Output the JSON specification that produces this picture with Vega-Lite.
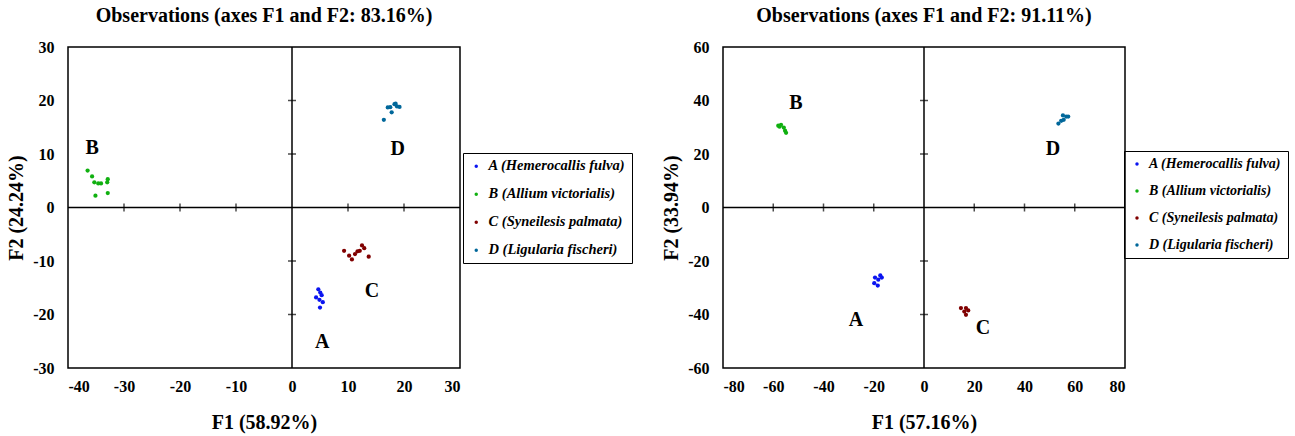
{
  "$schema": "https://vega.github.io/schema/vega-lite/v6.json",
  "background": "white",
  "padding": {"left": 5, "top": 5, "right": 2, "bottom": 2},
  "config": {
    "font": "Liberation Serif",
    "view": {"stroke": "black", "strokeWidth": 1.5},
    "axis": {"grid": false, "ticks": false, "domain": false, "labelFont": "Liberation Serif", "labelFontWeight": "bold", "labelFontSize": 16, "labelColor": "black", "titleFont": "Liberation Serif", "titleFontWeight": "bold", "titleFontSize": 20, "titleColor": "black", "labelExpr": "toString(datum.value)"},
    "title": {"font": "Liberation Serif", "fontWeight": "bold", "fontSize": 20, "color": "black", "offset": 13},
    "legend": {"labelFont": "Liberation Serif", "labelFontWeight": "bold", "labelFontStyle": "italic", "labelFontSize": 14.5, "labelColor": "black", "strokeColor": "black", "strokeWidth": 1, "padding": 6, "symbolSize": 12, "symbolType": "circle", "rowPadding": 13, "labelOffset": 5}
  },
  "datasets": {
    "left": [
      {"species": "B (Allium victorialis)", "x": -36.5, "y": 6.9},
      {"species": "B (Allium victorialis)", "x": -35.7, "y": 5.8},
      {"species": "B (Allium victorialis)", "x": -35.3, "y": 4.7},
      {"species": "B (Allium victorialis)", "x": -34.6, "y": 4.5},
      {"species": "B (Allium victorialis)", "x": -34.1, "y": 4.5},
      {"species": "B (Allium victorialis)", "x": -32.9, "y": 5.3},
      {"species": "B (Allium victorialis)", "x": -33.0, "y": 4.7},
      {"species": "B (Allium victorialis)", "x": -32.9, "y": 2.7},
      {"species": "B (Allium victorialis)", "x": -35.1, "y": 2.2},
      {"species": "D (Ligularia fischeri)", "x": 16.4, "y": 16.4},
      {"species": "D (Ligularia fischeri)", "x": 17.1, "y": 18.7},
      {"species": "D (Ligularia fischeri)", "x": 17.8, "y": 17.8},
      {"species": "D (Ligularia fischeri)", "x": 18.3, "y": 19.3},
      {"species": "D (Ligularia fischeri)", "x": 18.75, "y": 18.9},
      {"species": "D (Ligularia fischeri)", "x": 19.2, "y": 18.8},
      {"species": "D (Ligularia fischeri)", "x": 17.55, "y": 18.75},
      {"species": "D (Ligularia fischeri)", "x": 18.5, "y": 19.4},
      {"species": "C (Syneilesis palmata)", "x": 9.3, "y": -8.1},
      {"species": "C (Syneilesis palmata)", "x": 10.2, "y": -9.0},
      {"species": "C (Syneilesis palmata)", "x": 10.7, "y": -9.7},
      {"species": "C (Syneilesis palmata)", "x": 11.25, "y": -8.7},
      {"species": "C (Syneilesis palmata)", "x": 11.7, "y": -8.2},
      {"species": "C (Syneilesis palmata)", "x": 12.1, "y": -8.1},
      {"species": "C (Syneilesis palmata)", "x": 12.5, "y": -7.1},
      {"species": "C (Syneilesis palmata)", "x": 12.9, "y": -7.6},
      {"species": "C (Syneilesis palmata)", "x": 13.7, "y": -9.2},
      {"species": "A (Hemerocallis fulva)", "x": 4.7, "y": -15.3},
      {"species": "A (Hemerocallis fulva)", "x": 5.05, "y": -15.9},
      {"species": "A (Hemerocallis fulva)", "x": 4.3, "y": -16.8},
      {"species": "A (Hemerocallis fulva)", "x": 4.9, "y": -17.25},
      {"species": "A (Hemerocallis fulva)", "x": 5.3, "y": -16.4},
      {"species": "A (Hemerocallis fulva)", "x": 5.5, "y": -17.7},
      {"species": "A (Hemerocallis fulva)", "x": 5.0, "y": -18.7}
    ],
    "leftLabels": [
      {"label": "A", "x": 5.4, "y": -25.2},
      {"label": "B", "x": -35.7, "y": 11.2},
      {"label": "C", "x": 14.3, "y": -15.7},
      {"label": "D", "x": 18.9, "y": 11.0}
    ],
    "leftXTicks": [{"v": -30}, {"v": -20}, {"v": -10}, {"v": 10}, {"v": 20}],
    "leftYTicks": [{"v": -20}, {"v": -10}, {"v": 10}, {"v": 20}],
    "right": [
      {"species": "B (Allium victorialis)", "x": -58.0, "y": 30.6},
      {"species": "B (Allium victorialis)", "x": -56.9, "y": 30.9},
      {"species": "B (Allium victorialis)", "x": -55.8, "y": 29.9},
      {"species": "B (Allium victorialis)", "x": -55.3, "y": 28.7},
      {"species": "B (Allium victorialis)", "x": -54.9, "y": 27.9},
      {"species": "B (Allium victorialis)", "x": -57.5, "y": 30.2},
      {"species": "D (Ligularia fischeri)", "x": 53.5, "y": 31.4},
      {"species": "D (Ligularia fischeri)", "x": 54.6, "y": 32.4},
      {"species": "D (Ligularia fischeri)", "x": 55.3, "y": 34.4},
      {"species": "D (Ligularia fischeri)", "x": 56.6, "y": 34.0},
      {"species": "D (Ligularia fischeri)", "x": 57.4, "y": 34.0},
      {"species": "D (Ligularia fischeri)", "x": 55.6, "y": 32.8},
      {"species": "C (Syneilesis palmata)", "x": 14.7, "y": -37.6},
      {"species": "C (Syneilesis palmata)", "x": 16.7, "y": -37.6},
      {"species": "C (Syneilesis palmata)", "x": 16.05, "y": -38.9},
      {"species": "C (Syneilesis palmata)", "x": 17.6, "y": -38.5},
      {"species": "C (Syneilesis palmata)", "x": 16.7, "y": -40.1},
      {"species": "A (Hemerocallis fulva)", "x": -19.5, "y": -26.2},
      {"species": "A (Hemerocallis fulva)", "x": -17.4, "y": -25.4},
      {"species": "A (Hemerocallis fulva)", "x": -18.2, "y": -27.0},
      {"species": "A (Hemerocallis fulva)", "x": -19.8, "y": -28.3},
      {"species": "A (Hemerocallis fulva)", "x": -18.4, "y": -29.2},
      {"species": "A (Hemerocallis fulva)", "x": -16.8, "y": -26.2}
    ],
    "rightLabels": [
      {"label": "A", "x": -27.1, "y": -41.9},
      {"label": "B", "x": -51.0, "y": 38.9},
      {"label": "C", "x": 23.5, "y": -44.9},
      {"label": "D", "x": 51.3, "y": 22.0}
    ],
    "rightXTicks": [{"v": -60}, {"v": -40}, {"v": -20}, {"v": 20}, {"v": 40}, {"v": 60}],
    "rightYTicks": [{"v": -40}, {"v": -20}, {"v": 20}, {"v": 40}]
  },
  "resolve": {"scale": {"color": "independent"}, "legend": {"color": "independent"}},
  "spacing": 26,
  "hconcat": [
    {
      "width": 392,
      "height": 321,
      "title": "Observations (axes F1 and F2: 83.16%)",
      "layer": [
        {
          "data": {"values": [{"z": 0}]},
          "mark": {"type": "rule", "color": "black", "strokeWidth": 1.5},
          "encoding": {"x": {"field": "z", "type": "quantitative", "scale": {"domain": [-40, 30], "nice": false}, "axis": {"values": [-40, -30, -20, -10, 0, 10, 20, 30], "title": "F1 (58.92%)", "labelPadding": 10, "titlePadding": 18}}}
        },
        {
          "data": {"values": [{"z": 0}]},
          "mark": {"type": "rule", "color": "black", "strokeWidth": 1.5},
          "encoding": {"y": {"field": "z", "type": "quantitative", "scale": {"domain": [-30, 30], "nice": false}, "axis": {"values": [-30, -20, -10, 0, 10, 20, 30], "title": "F2 (24.24%)", "labelPadding": 14, "titlePadding": 6}}}
        },
        {
          "data": {"name": "leftXTicks"},
          "mark": {"type": "tick", "orient": "vertical", "color": "black", "thickness": 1.5, "size": 8},
          "encoding": {"x": {"field": "v", "type": "quantitative"}, "y": {"datum": 0, "type": "quantitative"}}
        },
        {
          "data": {"name": "leftYTicks"},
          "mark": {"type": "tick", "orient": "horizontal", "color": "black", "thickness": 1.5, "size": 8},
          "encoding": {"y": {"field": "v", "type": "quantitative"}, "x": {"datum": 0, "type": "quantitative"}}
        },
        {
          "data": {"name": "left"},
          "mark": {"type": "circle", "size": 18, "opacity": 1},
          "encoding": {
            "x": {"field": "x", "type": "quantitative"},
            "y": {"field": "y", "type": "quantitative"},
            "color": {"field": "species", "type": "nominal", "scale": {"domain": ["A (Hemerocallis fulva)", "B (Allium victorialis)", "C (Syneilesis palmata)", "D (Ligularia fischeri)"], "range": ["#0a14f0", "#10b010", "#800000", "#00679a"]}, "legend": {"title": null, "orient": "none", "legendX": 395, "legendY": 106}}
          }
        },
        {
          "data": {"name": "leftLabels"},
          "mark": {"type": "text", "font": "Liberation Serif", "fontWeight": "bold", "fontSize": 20, "color": "black"},
          "encoding": {"x": {"field": "x", "type": "quantitative"}, "y": {"field": "y", "type": "quantitative"}, "text": {"field": "label"}}
        }
      ]
    },
    {
      "width": 402,
      "height": 321,
      "title": "Observations (axes F1 and F2: 91.11%)",
      "layer": [
        {
          "data": {"values": [{"z": 0}]},
          "mark": {"type": "rule", "color": "black", "strokeWidth": 1.5},
          "encoding": {"x": {"field": "z", "type": "quantitative", "scale": {"domain": [-80, 80], "nice": false}, "axis": {"values": [-80, -60, -40, -20, 0, 20, 40, 60, 80], "title": "F1 (57.16%)", "labelPadding": 10, "titlePadding": 18}}}
        },
        {
          "data": {"values": [{"z": 0}]},
          "mark": {"type": "rule", "color": "black", "strokeWidth": 1.5},
          "encoding": {"y": {"field": "z", "type": "quantitative", "scale": {"domain": [-60, 60], "nice": false}, "axis": {"values": [-60, -40, -20, 0, 20, 40, 60], "title": "F2 (33.94%)", "labelPadding": 14, "titlePadding": 6}}}
        },
        {
          "data": {"name": "rightXTicks"},
          "mark": {"type": "tick", "orient": "vertical", "color": "black", "thickness": 1.5, "size": 8},
          "encoding": {"x": {"field": "v", "type": "quantitative"}, "y": {"datum": 0, "type": "quantitative"}}
        },
        {
          "data": {"name": "rightYTicks"},
          "mark": {"type": "tick", "orient": "horizontal", "color": "black", "thickness": 1.5, "size": 8},
          "encoding": {"y": {"field": "v", "type": "quantitative"}, "x": {"datum": 0, "type": "quantitative"}}
        },
        {
          "data": {"name": "right"},
          "mark": {"type": "circle", "size": 18, "opacity": 1},
          "encoding": {
            "x": {"field": "x", "type": "quantitative"},
            "y": {"field": "y", "type": "quantitative"},
            "color": {"field": "species", "type": "nominal", "scale": {"domain": ["A (Hemerocallis fulva)", "B (Allium victorialis)", "C (Syneilesis palmata)", "D (Ligularia fischeri)"], "range": ["#0a14f0", "#10b010", "#800000", "#00679a"]}, "legend": {"title": null, "orient": "none", "legendX": 401, "legendY": 104, "labelFontSize": 14}}
          }
        },
        {
          "data": {"name": "rightLabels"},
          "mark": {"type": "text", "font": "Liberation Serif", "fontWeight": "bold", "fontSize": 20, "color": "black"},
          "encoding": {"x": {"field": "x", "type": "quantitative"}, "y": {"field": "y", "type": "quantitative"}, "text": {"field": "label"}}
        }
      ]
    }
  ]
}
